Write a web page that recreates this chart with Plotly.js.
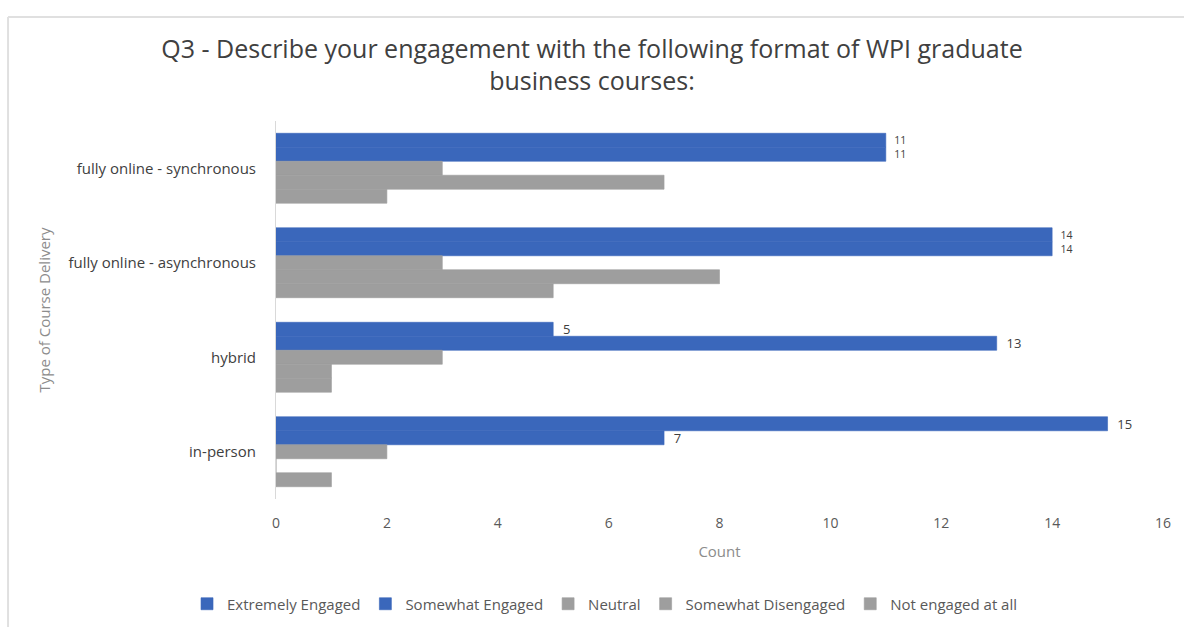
<!DOCTYPE html>
<html>
<head>
<meta charset="utf-8">
<script src="https://cdn.plot.ly/plotly-3.0.1.min.js"></script>
<style>html,body{margin:0;padding:0;background:#fff;}#chart{width:1184px;height:627px;}</style>
</head>
<body>
<div id="chart"></div>
<script>
const categories = ["fully online - synchronous", "fully online - asynchronous", "hybrid", "in-person"];
const seriesNames = ["Extremely Engaged", "Somewhat Engaged", "Neutral", "Somewhat Disengaged", "Not engaged at all"];
const extremelyEngaged = [11, 14, 5, 15];
const somewhatEngaged = [11, 14, 13, 7];
const neutral = [3, 3, 3, 2];
const somewhatDisengaged = [7, 8, 1, 0];
const notEngaged = [2, 5, 1, 1];
const xTicks = [0, 2, 4, 6, 8, 10, 12, 14, 16];

const seriesValues = [extremelyEngaged, somewhatEngaged, neutral, somewhatDisengaged, notEngaged];
const seriesColors = ["#3a67bb", "#3a67bb", "#9e9e9e", "#9e9e9e", "#9e9e9e"];
const showLabels = [true, true, false, false, false];

const FONT = "Open Sans, Noto Sans, sans-serif";

// labels of the two blue bars sit on top of each other when their values are equal: shrink those a bit
const labelSizes = extremelyEngaged.map((v, k) => (Math.abs(v - somewhatEngaged[k]) < 1 ? 10.5 : 13));

const traces = seriesValues.map((vals, i) => ({
  type: "bar",
  orientation: "h",
  name: seriesNames[i],
  y: categories,
  x: vals,
  marker: {color: seriesColors[i], line: {width: 0.6, color: seriesColors[i]}},
  text: showLabels[i] ? vals.map(String) : undefined,
  texttemplate: showLabels[i] ? "\u00a0\u00a0%{x}" : undefined,
  textposition: showLabels[i] ? "outside" : "none",
  constraintext: "none",
  textfont: {family: FONT, size: showLabels[i] ? labelSizes : 13, color: "#404040"},
  cliponaxis: false,
  hoverinfo: "x+y+name"
}));

const layout = {
  width: 1184,
  height: 627,
  paper_bgcolor: "#ffffff",
  plot_bgcolor: "#ffffff",
  barmode: "group",
  bargap: 0.26,
  bargroupgap: 0,
  margin: {l: 276, r: 21, t: 121, b: 128},
  font: {family: FONT, color: "#404040"},
  title: {
    text: "Q3 - Describe your engagement with the following format of WPI graduate<br>business courses:",
    font: {family: FONT, size: 25, color: "#404040"},
    x: 0.5,
    xanchor: "center",
    y: 0.908,
    yanchor: "middle",
    yref: "container"
  },
  xaxis: {
    range: [0, 16],
    tickvals: xTicks,
    ticktext: xTicks.map(String),
    showgrid: false,
    zeroline: false,
    showline: false,
    ticks: "",
    ticklabelstandoff: 14,
    tickfont: {family: FONT, size: 14, color: "#595959"},
    title: {text: "Count", font: {family: FONT, size: 15, color: "#8c8c8c"}, standoff: 15},
    fixedrange: true
  },
  yaxis: {
    type: "category",
    categoryorder: "array",
    categoryarray: categories,
    autorange: "reversed",
    showgrid: false,
    zeroline: false,
    showline: true,
    linecolor: "#d9d9d9",
    linewidth: 1,
    ticks: "",
    ticklabelstandoff: 16,
    tickfont: {family: FONT, size: 15, color: "#404040"},
    title: {text: "Type of Course Delivery", font: {family: FONT, size: 15, color: "#8c8c8c"}, standoff: 14},
    fixedrange: true
  },
  legend: {
    orientation: "h",
    xref: "container",
    yref: "container",
    x: 0.511,
    xanchor: "center",
    y: 0.0367,
    yanchor: "middle",
    font: {family: FONT, size: 15, color: "#595959"},
    traceorder: "normal",
    itemwidth: 30
  },
  shapes: [
    {type: "line", xref: "paper", yref: "paper", x0: -0.3021, x1: -0.3021, y0: 1.2751, y1: -0.4, line: {color: "#e0e0e0", width: 2}},
    {type: "line", xref: "paper", yref: "paper", x0: -0.3021, x1: 1.05, y0: 1.2751, y1: 1.2751, line: {color: "#e0e0e0", width: 2}}
  ]
};

Plotly.newPlot("chart", traces, layout, {displayModeBar: false, staticPlot: false});
</script>
</body>
</html>
